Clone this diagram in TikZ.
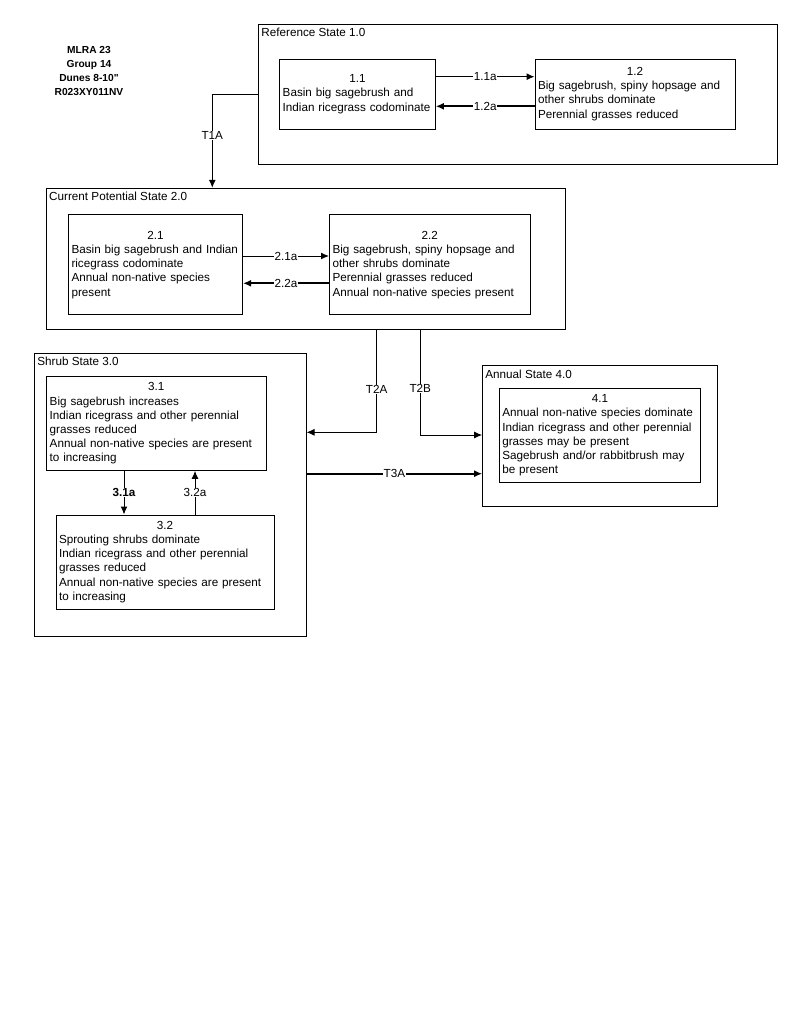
\documentclass[tikz,border=0pt]{standalone}
\usepackage{fontspec}
\setmainfont{Liberation Sans}[Ligatures=TeXOff]
\usetikzlibrary{arrows.meta}
\setlength{\parindent}{0pt}
\newcommand{\cnum}[1]{\makebox[\hsize]{#1}}
\tikzset{every node/.style={font=\fontsize{11.7}{14.2}\selectfont},
  statebox/.style={draw, line width=1pt, inner sep=0pt},
  statelab/.style={anchor=west, inner sep=0pt},
  commbox/.style 2 args={draw, line width=1pt, align=left, inner xsep=3pt, inner ysep=0pt, text width=#1, minimum height=#2},
  trans/.style={line width=1pt, -{Latex[length=8pt,width=7pt]}},
  heavy/.style={trans, line width=2pt},
  tlab/.style={fill=white, inner sep=0.5pt}}

\begin{document}
\begin{tikzpicture}[x=1pt,y=-1pt]
    \useasboundingbox (0,0) rectangle (800,1036);

    \node[align=center, font=\bfseries\fontsize{10.2}{14}\selectfont] (title) at (89,70.5) {MLRA 23\\Group 14\\Dunes 8-10"\\R023XY011NV};

    % states
    \node[statebox, minimum width=518.3, minimum height=140.7] (s1) at (517.85,94.35) {};
    \node[statebox, minimum width=519, minimum height=141] (s2) at (306,258.8) {};
    \node[statebox, minimum width=271.3, minimum height=283] (s3) at (170.35,494.5) {};
    \node[statebox, minimum width=234.3, minimum height=141] (s4) at (599.85,436.2) {};
    \node[statelab] (s1lab) at ([shift={(3pt,-9pt)}]s1.north west) {Reference State 1.0};
    \node[statelab] (s2lab) at ([shift={(3pt,-9pt)}]s2.north west) {Current Potential State 2.0};
    \node[statelab] (s3lab) at ([shift={(3pt,-9pt)}]s3.north west) {Shrub State 3.0};
    \node[statelab] (s4lab) at ([shift={(3pt,-9pt)}]s4.north west) {Annual State 4.0};

    % communities
    \node[commbox={149.6pt}{70}] (c11) at (357.5,94) {\cnum{1.1}\\Basin big sagebrush and\\Indian ricegrass codominate};
    \node[commbox={194pt}{70}] (c12) at (635,94) {\cnum{1.2}\\Big sagebrush, spiny hopsage and\\other shrubs dominate\\Perennial grasses reduced};
    \node[commbox={168pt}{100.3}] (c21) at (155.5,264.8) {\cnum{2.1}\\Basin big sagebrush and Indian\\ricegrass codominate\\Annual non-native species\\present};
    \node[commbox={194.5pt}{100.3}] (c22) at (429.75,264.8) {\cnum{2.2}\\Big sagebrush, spiny hopsage and\\other shrubs dominate\\Perennial grasses reduced\\Annual non-native species present};
    \node[commbox={213.3pt}{93.6}] (c31) at (156.35,423.5) {\cnum{3.1}\\Big sagebrush increases\\Indian ricegrass and other perennial\\grasses reduced\\Annual non-native species are present\\to increasing};
    \node[commbox={212pt}{94}] (c32) at (165,562) {\cnum{3.2}\\Sprouting shrubs dominate\\Indian ricegrass and other perennial\\grasses reduced\\Annual non-native species are present\\to increasing};
    \node[commbox={195.4pt}{94}] (c41) at (600,435.3) {\cnum{4.1}\\Annual non-native species dominate\\Indian ricegrass and other perennial\\grasses may be present\\Sagebrush and/or rabbitbrush may\\be present};

    \coordinate (t1a) at (212.3,94.3);
    \coordinate (t2a) at (376.7,432.3);
    \coordinate (t2b) at (420.3,435);
    \coordinate (t3a) at (392,473.7);
    \coordinate (t31) at (124,492);
    \coordinate (t32) at (195,492);

    % pathways
    \draw[trans] ([yshift=17.3pt]c11.east) -- node[tlab] {1.1a} ([yshift=17.3pt]c12.west);
    \draw[heavy] ([yshift=-12.3pt]c12.west) -- node[tlab] {1.2a} ([yshift=-12.3pt]c11.east);
    \draw[trans] ([yshift=8.8pt]c21.east) -- node[tlab] {2.1a} ([yshift=8.8pt]c22.west);
    \draw[heavy] ([yshift=-18.5pt]c22.west) -- node[tlab] {2.2a} ([yshift=-18.5pt]c21.east);
    \draw[trans] (c31.south -| t31) -- node[tlab] {\textbf{3.1a}} (c32.north -| t31);
    \draw[trans] (c32.north -| t32) -- node[tlab] {3.2a} (c31.south -| t32);

    % transitions
    \draw[trans] (s1.west) -| node[tlab, pos=0.72] {T1A} (s2.north -| t1a);
    \draw[trans] (s2.south -| t2a) |- node[tlab, pos=0.29] {T2A} (s3.east |- t2a);
    \draw[trans] (s2.south -| t2b) |- node[tlab, pos=0.28] {T2B} (s4.west |- t2b);
    \draw[heavy] (s3.east |- t3a) -- node[tlab] {T3A} (s4.west |- t3a);
  \end{tikzpicture}
\end{document}
